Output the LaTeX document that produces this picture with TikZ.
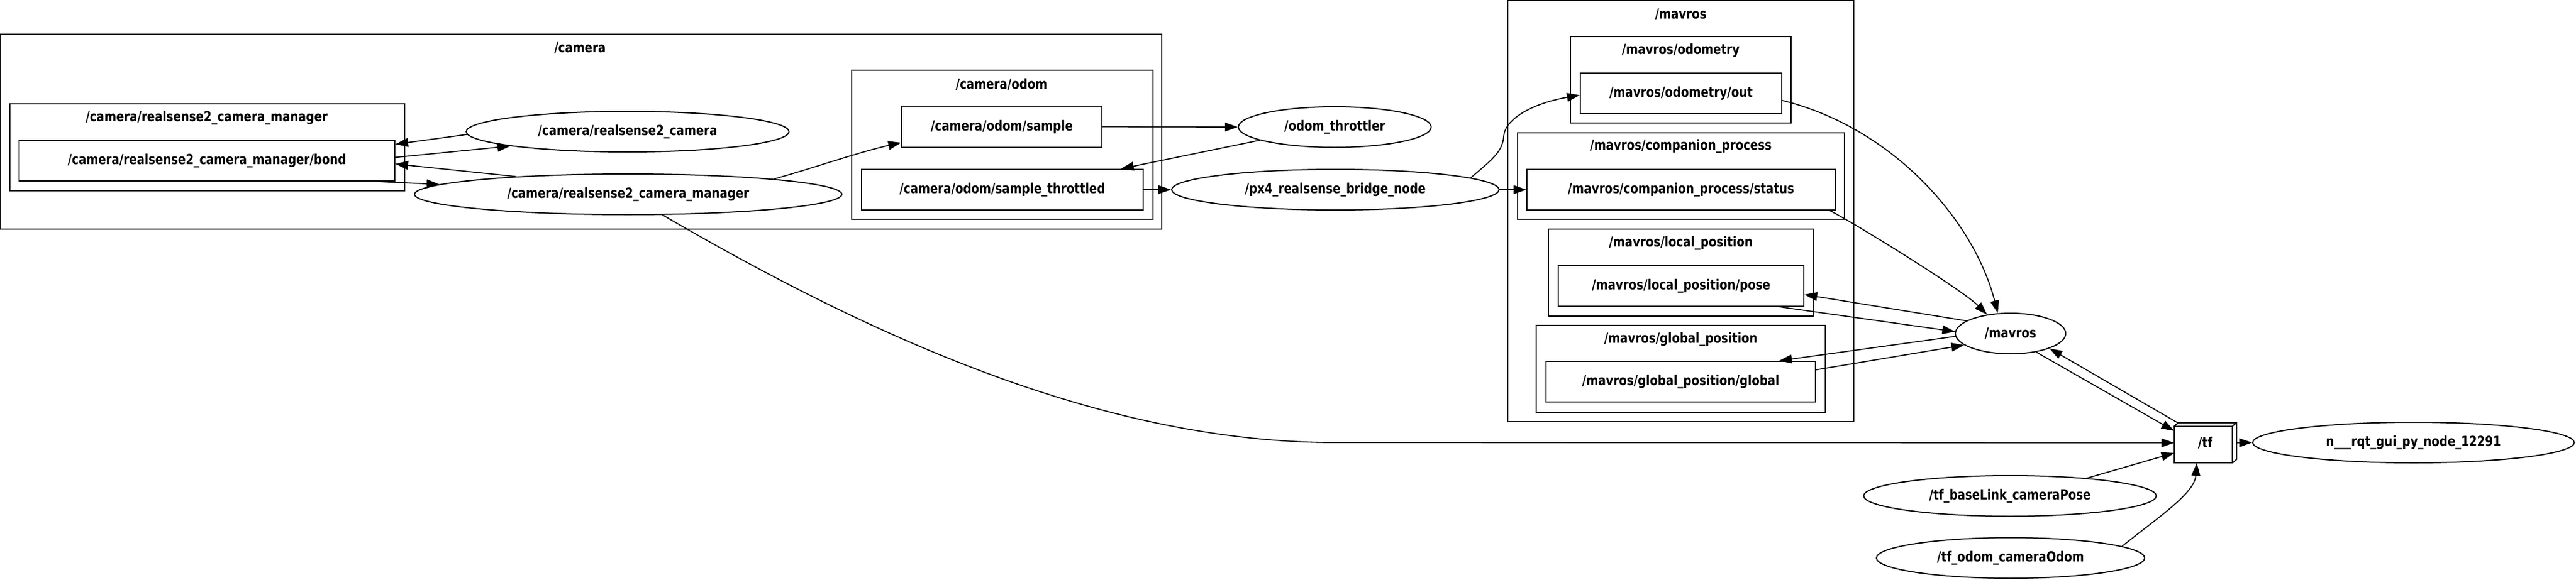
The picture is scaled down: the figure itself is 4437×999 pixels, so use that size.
\documentclass[tikz,border=0pt]{standalone}
\usepackage{fontspec}
\setmainfont{DejaVu Sans}[FakeStretch=0.82]
\usetikzlibrary{arrows.meta,calc,shapes.geometric}
\begin{document}
\begin{tikzpicture}[x=1pt,y=-1pt,
  every node/.style={font=\bfseries\fontsize{24}{28}\selectfont, inner sep=0pt},
  cluster/.style={draw, line width=1.8pt},
  topic/.style={draw, rectangle, line width=2pt, minimum height=70pt},
  gnode/.style={draw, ellipse, line width=2pt, minimum height=70pt},
  edge/.style={line width=1.8pt, -{Triangle[length=22pt,width=15pt]}},
  box3d/.style={line width=2pt},
]
\useasboundingbox (0,0) rectangle (4437,999);

% clusters
\draw[cluster] (0,59) rectangle (2001,395);
\node (lcamera) at (999,83) {/camera};
\draw[cluster] (17,179) rectangle (697,329);
\node (lrsmgr) at (356,203) {/camera/realsense2\_camera\_manager};
\draw[cluster] (1467,121) rectangle (1986,378);
\node (lcamodom) at (1725,145) {/camera/odom};
\draw[cluster] (2597,1) rectangle (3193,727);
\node (lmavros) at (2895,25) {/mavros};
\draw[cluster] (2705,63) rectangle (3085,212);
\node (lmavodom) at (2895,87) {/mavros/odometry};
\draw[cluster] (2614,229) rectangle (3177,378);
\node (lcomp) at (2895,252) {/mavros/companion\_process};
\draw[cluster] (2667,395) rectangle (3123,545);
\node (llocal) at (2895,419) {/mavros/local\_position};
\draw[cluster] (2646,561) rectangle (3144,711);
\node (lglobal) at (2895,585) {/mavros/global\_position};

% topics
\node[topic, minimum width=647pt] (bond) at (356.5,277) {/camera/realsense2\_camera\_manager/bond};
\node[topic, minimum width=345pt, minimum height=71pt] (sample) at (1725.5,218.5) {/camera/odom/sample};
\node[topic, minimum width=485pt] (throttled) at (1726.5,327) {/camera/odom/sample\_throttled};
\node[topic, minimum width=347pt] (odomout) at (2895.5,161) {/mavros/odometry/out};
\node[topic, minimum width=531pt] (status) at (2895.5,327) {/mavros/companion\_process/status};
\node[topic, minimum width=423pt] (pose) at (2895.5,493) {/mavros/local\_position/pose};
\node[topic, minimum width=464pt] (global) at (2895,658) {/mavros/global\_position/global};

% tf (box3d)
\node[minimum width=107pt, minimum height=69pt] (tf) at (3798.5,763.5) {/tf};
\draw[box3d] (tf.south west) rectangle ($(tf.north east)+(-7,6)$);
\draw[box3d] ($(tf.north west)+(0,6)$) -- ($(tf.north west)+(7,0)$) -- (tf.north east)
  -- ($(tf.south east)+(0,-6)$) -- ($(tf.south east)+(-7,0)$);
\draw[box3d] ($(tf.north east)+(-7,6)$) -- (tf.north east);

% nodes
\node[gnode, minimum width=556pt] (rs2cam) at (1081,227) {/camera/realsense2\_camera};
\node[gnode, minimum width=736pt] (rs2mgr) at (1082,335) {/camera/realsense2\_camera\_manager};
\node[gnode, minimum width=332pt] (throttler) at (2299,219) {/odom\_throttler};
\node[gnode, minimum width=564pt] (px4) at (2300,327) {/px4\_realsense\_bridge\_node};
\node[gnode, minimum width=190pt] (mavros) at (3463,575) {/mavros};
\node[gnode, minimum width=554pt] (rqt) at (4157,763) {n\_\_\_rqt\_gui\_py\_node\_12291};
\node[gnode, minimum width=504pt] (baselink) at (3462,855) {/tf\_baseLink\_cameraPose};
\node[gnode, minimum width=462pt] (odomcam) at (3463,962) {/tf\_odom\_cameraOdom};

% edges
\draw[edge] (rs2cam.181.2) -- (bond.5.5);
\draw[edge] (bond.1.6) -- (rs2cam.187.2);
\draw[edge] (rs2mgr.171.9) -- (bond.-1.9);
\draw[edge] (bond.-7) -- (rs2mgr.177.8);
\draw[edge] (rs2mgr.6) .. controls (1400,290) and (1480,262) .. (sample.189.4);
\draw[edge] (rs2mgr.-31) .. controls (1500,580) and (1900,763) .. (2300,763) -- (tf.west);
\draw[edge] (sample.east) -- (throttler.west);
\draw[edge] (throttler.190.8) -- (throttled.10.4);
\draw[edge] (throttled.east) -- (px4.west);
\draw[edge] (px4.east) -- (status.west);
\draw[edge] (px4.5.5) .. controls (2570,275) and (2588,262) .. (2590,235)
  .. controls (2592,205) and (2640,178) .. (odomout.181);
\draw[edge] (odomout.-4.3) .. controls (3260,220) and (3400,380) .. (mavros.122);
\draw[edge] (status.-8.75) .. controls (3200,388) and (3380,500) .. (mavros.141.2);
\draw[edge] (mavros.164.2) -- (pose.-4.6);
\draw[edge] (pose.-12) -- (mavros.178.2);
\draw[edge] (mavros.183) -- (global.12.2);
\draw[edge] (global.5.2) -- (mavros.194.2);
\draw[edge] (mavros.-36.3) -- (tf.159);
\draw[edge] (tf.144.2) -- (mavros.-21.1);
\draw[edge] (tf.east) -- (rqt.west);
\draw[edge] (baselink.13.6) -- (tf.198.7);
\draw[edge] (odomcam.6.3) .. controls (3720,890) and (3780,850) .. (tf.247.2);
\end{tikzpicture}
\end{document}
